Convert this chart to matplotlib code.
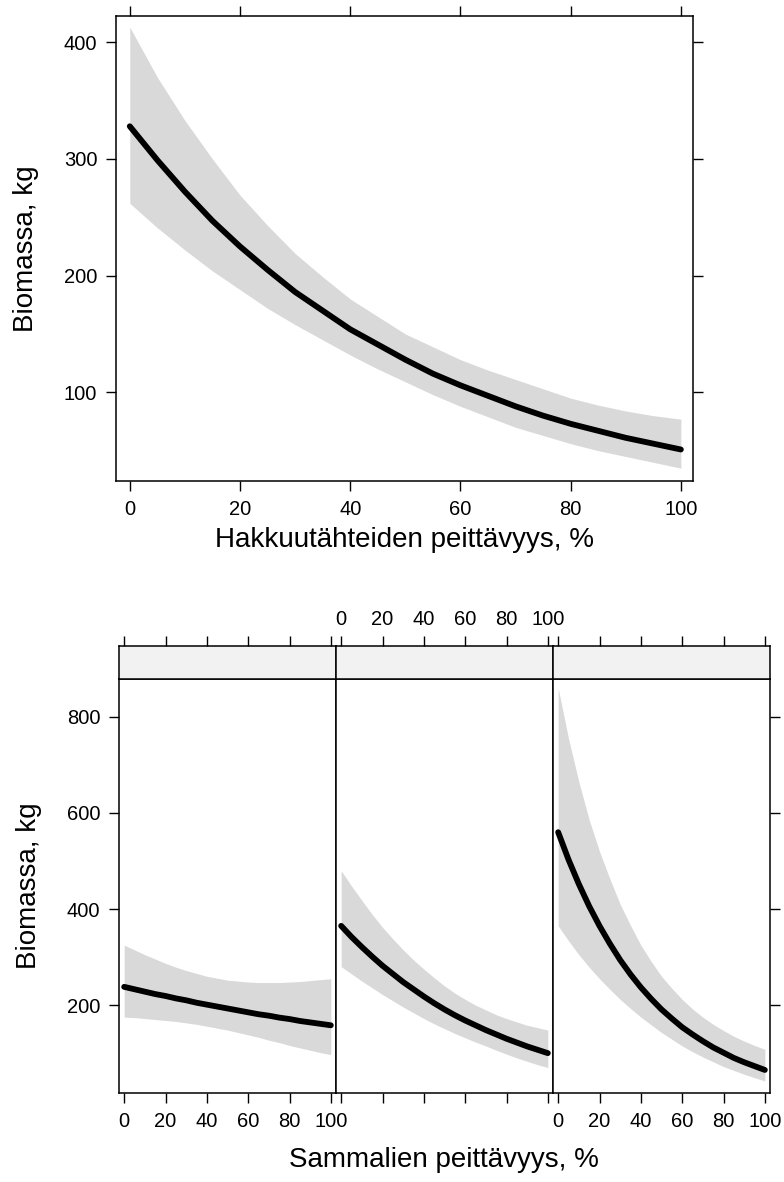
import matplotlib
matplotlib.use("Agg")
import matplotlib.pyplot as plt

plt.rcParams['font.family'] = ['Liberation Sans', 'DejaVu Sans']

# ---- data: top panel (Hakkuutähteiden peittävyys) ----
x_top = [0, 5, 10, 15, 20, 25, 30, 35, 40, 45, 50, 55, 60, 65, 70, 75, 80, 85, 90, 95, 100]
fit_top = [328, 299, 272, 247, 225, 205, 186, 170, 154, 141, 128, 116, 106, 97, 88, 80, 73, 67, 61, 56, 51]
upper_top = [413, 370, 333, 300, 269, 243, 219, 199, 180, 165, 150, 139, 128, 119, 111, 103, 95, 89, 84, 80, 77]
lower_top = [262, 241, 222, 204, 188, 172, 158, 145, 132, 120, 109, 98, 88, 79, 70, 63, 56, 50, 45, 40, 35]

# ---- data: bottom panels (Sammalien peittävyys), three conditioning levels ----
x_bot = [0, 5, 10, 15, 20, 25, 30, 35, 40, 45, 50, 55, 60, 65, 70, 75, 80, 85, 90, 95, 100]
fit_p1 = [238, 233, 228, 223, 219, 214, 210, 205, 201, 197, 193, 189, 185, 181, 178, 174, 171, 167, 164, 161, 158]
upper_p1 = [325, 315, 305, 296, 287, 279, 272, 266, 260, 256, 252, 250, 248, 247, 247, 247, 248, 249, 251, 253, 255]
lower_p1 = [175, 174, 172, 170, 168, 166, 163, 160, 156, 152, 148, 143, 138, 133, 127, 122, 116, 111, 106, 101, 97]

fit_p2 = [365, 342, 321, 301, 282, 265, 248, 233, 218, 204, 191, 179, 168, 158, 148, 139, 130, 122, 114, 107, 100]
upper_p2 = [480, 448, 418, 389, 362, 338, 315, 294, 275, 257, 240, 225, 212, 200, 190, 180, 172, 165, 158, 153, 148]
lower_p2 = [280, 265, 250, 236, 222, 209, 196, 184, 172, 161, 151, 141, 132, 123, 115, 106, 98, 90, 83, 76, 70]

fit_p3 = [560, 503, 452, 406, 365, 328, 294, 264, 237, 213, 191, 172, 154, 139, 125, 112, 101, 90, 81, 73, 65]
upper_p3 = [860, 755, 665, 586, 520, 463, 410, 366, 325, 291, 260, 235, 212, 192, 175, 160, 147, 135, 125, 116, 108]
lower_p3 = [365, 334, 305, 279, 255, 233, 212, 193, 175, 159, 143, 129, 115, 103, 92, 82, 72, 64, 56, 49, 42]

xticks = [0, 20, 40, 60, 80, 100]
yticks_top = [100, 200, 300, 400]
yticks_bot = [200, 400, 600, 800]

W, H = 784, 1182
fig = plt.figure(figsize=(W / 100, H / 100), dpi=100)

BAND = '#d9d9d9'
TICKLEN = 7.5
TICKW = 1.0
TICKFS = 14.5
LABFS = 20
SPW = 1.1


def rect(x0, y0, x1, y1):
    return [x0 / W, 1 - y1 / H, (x1 - x0) / W, (y1 - y0) / H]


# ---------------- top panel ----------------
ax = fig.add_axes(rect(116, 16, 693, 481))
ax.fill_between(x_top, lower_top, upper_top, color=BAND, lw=0)
ax.plot(x_top, fit_top, color='black', lw=4.2, solid_capstyle='round')
ax.set_xlim(-2.5, 102.2)
ax.set_ylim(24, 422.5)
ax.set_xticks(xticks)
ax.set_yticks(yticks_top)
ax.tick_params(direction='out', length=TICKLEN, width=TICKW, top=True, right=True,
               labeltop=False, labelright=False, labelsize=TICKFS, pad=6)
for s in ax.spines.values():
    s.set_linewidth(SPW)
ax.set_xlabel('Hakkuutähteiden peittävyys, %', fontsize=LABFS, labelpad=6)
ax.set_ylabel('Biomassa, kg', fontsize=LABFS, labelpad=18)

# ---------------- bottom panels ----------------
panels = [(fit_p1, upper_p1, lower_p1),
          (fit_p2, upper_p2, lower_p2),
          (fit_p3, upper_p3, lower_p3)]
xs = [119, 336, 553, 770]
for i, (fit, up, lo) in enumerate(panels):
    x0, x1 = xs[i], xs[i + 1]
    pax = fig.add_axes(rect(x0, 679, x1, 1093))
    pax.fill_between(x_bot, lo, up, color=BAND, lw=0)
    pax.plot(x_bot, fit, color='black', lw=4.2, solid_capstyle='round')
    pax.set_xlim(-2.5, 102.5)
    pax.set_ylim(17, 879)
    pax.set_xticks(xticks)
    pax.set_yticks(yticks_bot)
    pax.tick_params(axis='x', direction='out', length=TICKLEN, width=TICKW,
                    labelsize=TICKFS, pad=6, labelbottom=(i != 1))
    pax.tick_params(axis='y', direction='out', length=TICKLEN, width=TICKW,
                    labelsize=TICKFS, pad=6, left=(i == 0), labelleft=(i == 0),
                    right=(i == 2), labelright=False)
    for s in pax.spines.values():
        s.set_linewidth(SPW)
    if i == 0:
        pax.set_ylabel('Biomassa, kg', fontsize=LABFS, labelpad=18)

    sax = fig.add_axes(rect(x0, 646, x1, 679))
    sax.set_facecolor('#f2f2f2')
    sax.set_xlim(-2.5, 102.5)
    sax.set_xticks(xticks)
    sax.set_yticks([])
    sax.tick_params(axis='x', direction='out', length=TICKLEN, width=TICKW,
                    labelsize=TICKFS, pad=5, bottom=False, labelbottom=False,
                    top=True, labeltop=(i == 1))
    for s in sax.spines.values():
        s.set_linewidth(SPW)

fig.text(444 / W, 1 - 1160 / H, 'Sammalien peittävyys, %', fontsize=LABFS,
         ha='center', va='center')

fig.savefig('out.png', dpi=100)
